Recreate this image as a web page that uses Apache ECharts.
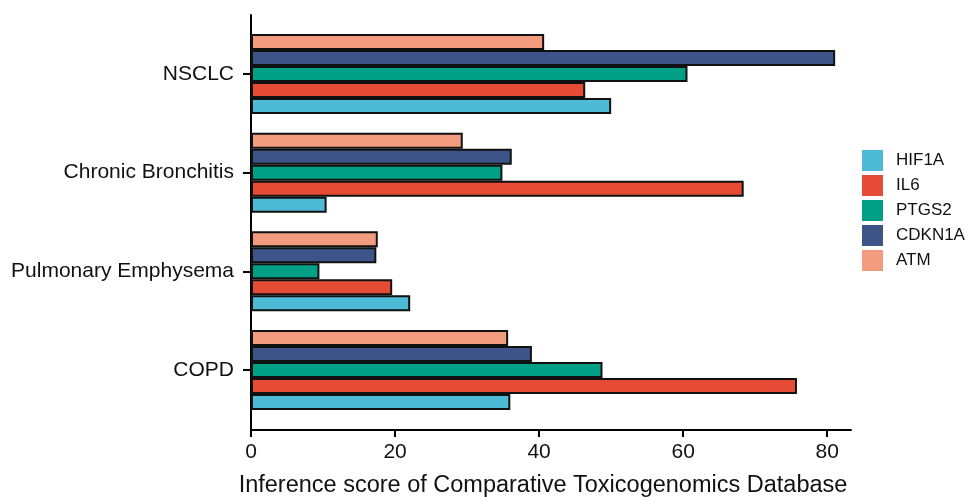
<!DOCTYPE html>
<html>
<head>
<meta charset="utf-8">
<script src="https://cdn.jsdelivr.net/npm/echarts@6/dist/echarts.min.js"></script>
<style>html,body{margin:0;padding:0;background:#fff}#c{width:967px;height:497px}</style>
</head>
<body>
<div id="c"></div>
<script>
const categories = ['COPD', 'Pulmonary Emphysema', 'Chronic Bronchitis', 'NSCLC'];
const genes = ['HIF1A', 'IL6', 'PTGS2', 'CDKN1A', 'ATM'];
const HIF1A  = [36.0, 22.1, 10.5, 50.0];
const IL6    = [75.8, 19.6, 68.4, 46.4];
const PTGS2  = [48.8, 9.5, 34.9, 60.6];
const CDKN1A = [39.0, 17.4, 36.2, 81.1];
const ATM    = [35.7, 17.6, 29.4, 40.7];
const xTicks = [0, 20, 40, 60, 80];
const xTitle = 'Inference score of Comparative Toxicogenomics Database';
const colors = ['#4DBBD5', '#E64B35', '#00A087', '#3C5488', '#F39B7F'];
const values = [HIF1A, IL6, PTGS2, CDKN1A, ATM];
const xMax = 83.3;

const chart = echarts.init(document.getElementById('c'));
const font = 'Liberation Sans, Arial, sans-serif';
// draw order reversed so that the first gene sits at the bottom of each group
const order = [4, 3, 2, 1, 0];
chart.setOption({
  animation: false,
  textStyle: { fontFamily: font },
  grid: [
    { left: 251, right: 116, top: 24.6, height: 394.8, outerBoundsMode: 'none', containLabel: false },
    { left: 251, right: 116, top: 15, height: 415, outerBoundsMode: 'none', containLabel: false }
  ],
  legend: {
    orient: 'vertical',
    left: 857,
    top: 145,
    itemWidth: 21,
    itemHeight: 21,
    itemGap: 4,
    icon: 'rect',
    itemStyle: { borderWidth: 0 },
    textStyle: { fontSize: 17, color: '#111', fontFamily: font, padding: [0, 0, 0, 8] },
    data: genes
  },
  xAxis: [
    { gridIndex: 0, type: 'value', show: false, min: 0, max: xMax, interval: 20 },
    {
      gridIndex: 1,
      type: 'value',
      min: 0,
      max: xMax,
      interval: 20,
      splitLine: { show: false },
      axisLine: { show: true, lineStyle: { color: '#000', width: 2 } },
      axisTick: { show: true, length: 7, lineStyle: { color: '#000', width: 2 }, customValues: xTicks },
      axisLabel: { fontSize: 21, color: '#111', margin: 12, customValues: xTicks, fontFamily: font },
      name: xTitle,
      nameLocation: 'middle',
      nameGap: 44,
      nameTextStyle: { fontSize: 23.5, color: '#111', fontFamily: font, padding: [0, 16, 0, 0] }
    }
  ],
  yAxis: [
    {
      gridIndex: 0,
      type: 'category',
      data: categories,
      axisLine: { show: false },
      axisTick: { show: true, length: 8, alignWithLabel: true, lineStyle: { color: '#000', width: 2 } },
      axisLabel: { fontSize: 21, color: '#111', margin: 17, fontFamily: font }
    },
    {
      gridIndex: 1,
      type: 'value',
      min: 0, max: 1,
      axisLine: { show: true, onZero: false, lineStyle: { color: '#000', width: 2 } },
      axisTick: { show: false },
      axisLabel: { show: false },
      splitLine: { show: false }
    }
  ],
  series: order.map(i => ({
    name: genes[i],
    type: 'bar',
    xAxisIndex: 0,
    yAxisIndex: 0,
    data: values[i],
    barWidth: 16,
    barGap: '0%',
    itemStyle: { color: colors[i], borderColor: '#111', borderWidth: 2 }
  }))
});
</script>
</body>
</html>
